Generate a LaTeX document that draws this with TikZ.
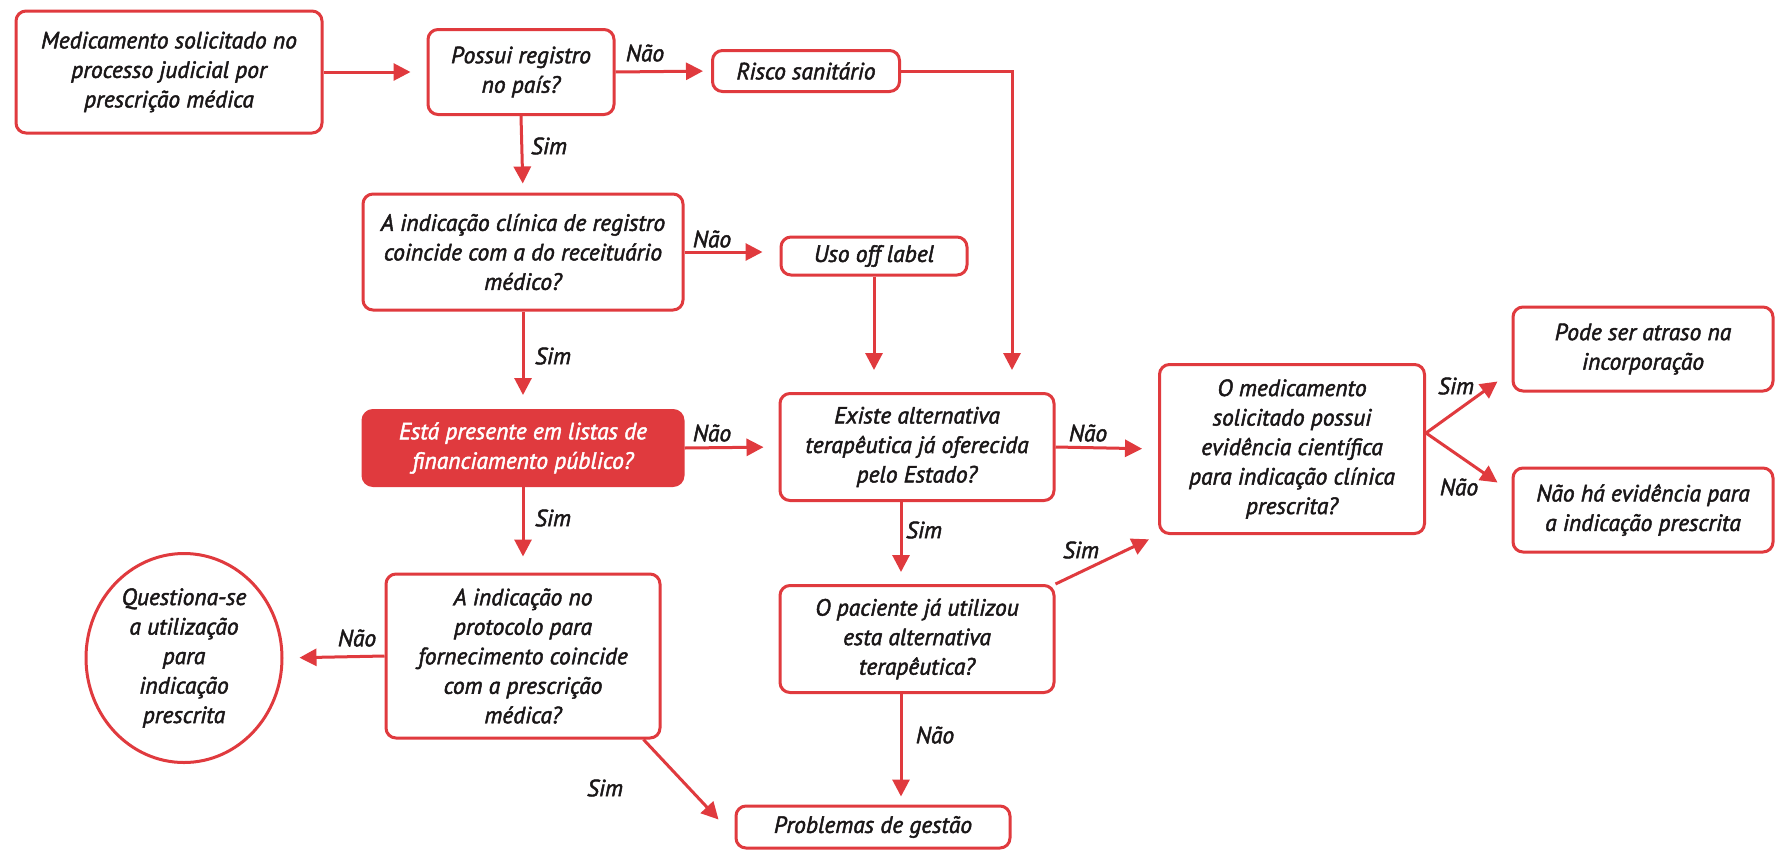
\documentclass[tikz,border=0pt]{standalone}
\usepackage{fontspec}
\setmainfont{PT Sans}[ItalicFeatures={FakeBold=2}]
\usetikzlibrary{arrows.meta,shapes.geometric,calc}
\definecolor{rd}{RGB}{224,58,62}
\definecolor{txt}{RGB}{26,23,24}
\begin{document}
\begin{tikzpicture}[x=1pt,y=-1pt,
  box/.style={draw=rd, line width=3pt, rounded corners=10pt, align=center, inner sep=0pt,
    font=\fontsize{23.5}{29.5}\selectfont\itshape, text=txt},
  arr/.style={draw=rd, line width=3pt, -{Triangle[length=17pt,width=17pt]}},
  lbl/.style={font=\fontsize{23.5}{26}\selectfont\itshape, text=txt, inner sep=0pt}
]
\useasboundingbox (0,0) rectangle (1777,852);
\fill[white] (0,0) rectangle (1777,852);

\node[box, minimum width=306pt, minimum height=122pt] (b1) at (169,72)
  {Medicamento solicitado no\\processo judicial por\\prescrição médica};
\node[box, minimum width=186pt, minimum height=85pt] (b2) at (521,72)
  {Possui registro\\no país?};
\node[box, minimum width=187pt, minimum height=41pt] (b3) at (806,71)
  {Risco sanitário};
\node[box, minimum width=320pt, minimum height=116pt] (b4) at (523,252)
  {A indicação clínica de registro\\coincide com a do receituário\\médico?};
\node[box, minimum width=186pt, minimum height=38pt] (b5) at (874,256)
  {Uso off label};
\node[box, fill=rd, text=white, minimum width=320pt, minimum height=75pt] (b6) at (523,448)
  {Está presente em listas de\\financiamento público?};
\node[box, minimum width=274pt, minimum height=107pt] (b7) at (917,447)
  {Existe alternativa\\terapêutica já oferecida\\pelo Estado?};
\node[box, minimum width=265pt, minimum height=169pt] (b8) at (1292,449)
  {O medicamento\\solicitado possui\\evidência científica\\para indicação clínica\\prescrita?};
\node[box, minimum width=260pt, minimum height=84pt] (b9) at (1643,349)
  {Pode ser atraso na\\incorporação};
\node[box, minimum width=260pt, minimum height=84pt] (b10) at (1643,510)
  {Não há evidência para\\a indicação prescrita};
\node[box, minimum width=274pt, minimum height=164pt] (b11) at (523,656)
  {A indicação no\\protocolo para\\fornecimento coincide\\com a prescrição\\médica?};
\node[box, ellipse, minimum width=196pt, minimum height=209pt] (el) at (184,658)
  {Questiona-se\\a utilização\\para\\indicação\\prescrita};
\node[box, minimum width=274pt, minimum height=107pt] (b12) at (917,639)
  {O paciente já utilizou\\esta alternativa\\terapêutica?};
\node[box, minimum width=274pt, minimum height=42pt] (b13) at (873,827)
  {Problemas de gestão};

% helper points on the sides of the central column
\coordinate (p7) at ([xshift=-16pt]b7.south);
\coordinate (p12) at ([xshift=-16pt]b12.south);

% connectors
\draw[arr, shorten >=16pt] (b1.east) -- (b2.west);
\draw[arr, shorten >=8pt] (b2.east) -- (b3.west);
\draw[arr, shorten >=9pt] (b2.south) -- (b4.north);
\draw[arr, shorten >=22pt] (b3.east) -| ([xshift=95pt]b7.north);
\draw[arr, shorten >=17pt] (b4.east) -- (b4.east -| b5.west);
\draw[arr, shorten >=22pt] (b5.south) -- (b5.south |- b7.north);
\draw[arr, shorten >=14pt] (b4.south) -- (b6.north);
\draw[arr, shorten >=15pt] (b6.east) -- (b7.west);
\draw[arr, shorten >=16pt] (b6.south) -- (b11.north);
\draw[arr, shorten >=16pt] (b7.east) -- (b8.west);
\draw[arr, shorten >=12pt] (p7) -- (p7 |- b12.north);
\draw[arr, shorten >=10pt] (b12.north east) -- (b8.south west);
\draw[arr, shorten >=8pt] (p12) -- (p12 |- b13.north);
\draw[arr, shorten >=16pt] (b11.west) -- (el.east);
\draw[arr] ([xshift=-18pt]b11.south east) -- ([xshift=-16pt,yshift=-15pt]b13.north west);
\draw[arr] ([yshift=16pt]b8.east) -- ([xshift=-14pt,yshift=11pt]b9.south west);
\draw[arr] ([yshift=16pt]b8.east) -- ([xshift=-14pt,yshift=-16pt]b10.north west);

% labels
\node[lbl] (l1) at (645,53) {Não};
\node[lbl] (l2) at (549,146) {Sim};
\node[lbl] (l3) at (712,239) {Não};
\node[lbl] (l4) at (553,356) {Sim};
\node[lbl] (l5) at (712,433) {Não};
\node[lbl] (l6) at (553,518) {Sim};
\node[lbl] (l7) at (1088,433) {Não};
\node[lbl] (l8) at (924,530) {Sim};
\node[lbl] (l9) at (1081,550) {Sim};
\node[lbl] (l10) at (935,735) {Não};
\node[lbl] (l11) at (357,638) {Não};
\node[lbl] (l12) at (605,788) {Sim};
\node[lbl] (l13) at (1456,386) {Sim};
\node[lbl] (l14) at (1459,487) {Não};
\end{tikzpicture}
\end{document}
